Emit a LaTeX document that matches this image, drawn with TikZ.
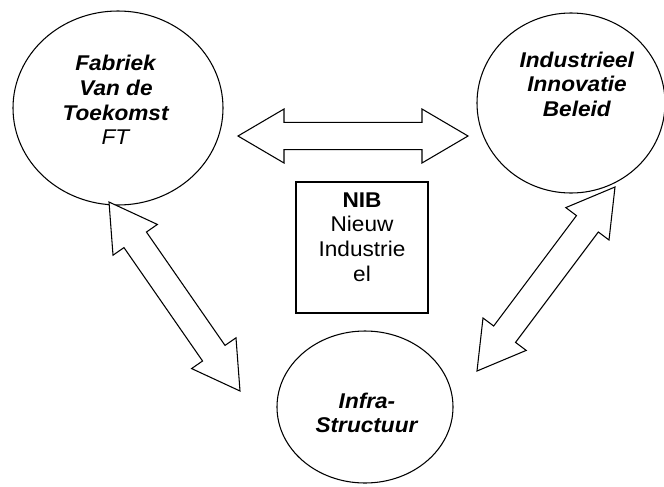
\documentclass[tikz,border=0pt]{standalone}
\usepackage{fontspec}
\setmainfont{Liberation Sans}[FakeStretch=1.06]
\usetikzlibrary{shapes.geometric,calc}

% block double arrow between two tip coordinates
\newcommand\hlen{34.5pt}  % head length
\newcommand\hwid{20.25pt} % half width of the head
\newcommand\swid{10.25pt} % half width of the shaft
\newcommand\dblarrow[2]{%
  \draw[blockarrow] (#1)
    -- ($(#1)!\hlen!(#2)!\hwid!90:(#2)$)
    -- ($(#1)!\hlen!(#2)!\swid!90:(#2)$)
    -- ($(#2)!\hlen!(#1)!\swid!-90:(#1)$)
    -- ($(#2)!\hlen!(#1)!\hwid!-90:(#1)$)
    -- (#2)
    -- ($(#2)!\hlen!(#1)!\hwid!90:(#1)$)
    -- ($(#2)!\hlen!(#1)!\swid!90:(#1)$)
    -- ($(#1)!\hlen!(#2)!\swid!-90:(#2)$)
    -- ($(#1)!\hlen!(#2)!\hwid!-90:(#2)$)
    -- cycle;}

\tikzset{
  bubble/.style={draw, ellipse, line width=0.8pt, inner sep=0pt, outer sep=0pt},
  box/.style={draw, rectangle, line width=0.8pt, inner sep=0pt},
  label/.style={align=center, inner sep=0pt, font=\fontsize{16pt}{18.4pt}\selectfont},
  blockarrow/.style={draw, fill=white, line width=0.8pt, line join=miter},
}

\begin{document}
\begin{tikzpicture}[x=0.75pt, y=-0.75pt]
  \useasboundingbox (0,0) rectangle (664,486);

  % the three circles
  \node[bubble, minimum width=157.5pt, minimum height=145.5pt] (ft) at (118,108) {};
  \node[bubble, minimum width=141pt, minimum height=135pt] (iib) at (571,103) {};
  \node[bubble, minimum width=132pt, minimum height=114pt] (infra) at (365,407) {};

  \node[label] (fttext) at (116,100)
    {\textbf{\textit{Fabriek}}\\\textbf{\textit{Van de}}\\\textbf{\textit{Toekomst}}\\\textit{FT}};
  \node[label] (iibtext) at (577,84)
    {\textbf{\textit{Industrieel}}\\\textbf{\textit{Innovatie}}\\\textbf{\textit{Beleid}}};
  \node[label] (infratext) at (367,413)
    {\textbf{\textit{Infra-}}\\\textbf{\textit{Structuur}}};

  % central box
  \node[box, minimum width=99pt, minimum height=98.25pt] (nib) at (362,247.5) {};
  \node[label] (nibtext) at (362,237)
    {\textbf{NIB}\\Nieuw\\Industrie\\el};

  % arrow tips
  \coordinate (h1) at (238,136);
  \coordinate (h2) at (468,136);
  \coordinate (d1) at (109,202);
  \coordinate (d2) at (240,391);
  \coordinate (e1) at (615,187);
  \coordinate (e2) at (477,371);

  \dblarrow{h1}{h2}
  \dblarrow{d1}{d2}
  \dblarrow{e1}{e2}
\end{tikzpicture}
\end{document}
